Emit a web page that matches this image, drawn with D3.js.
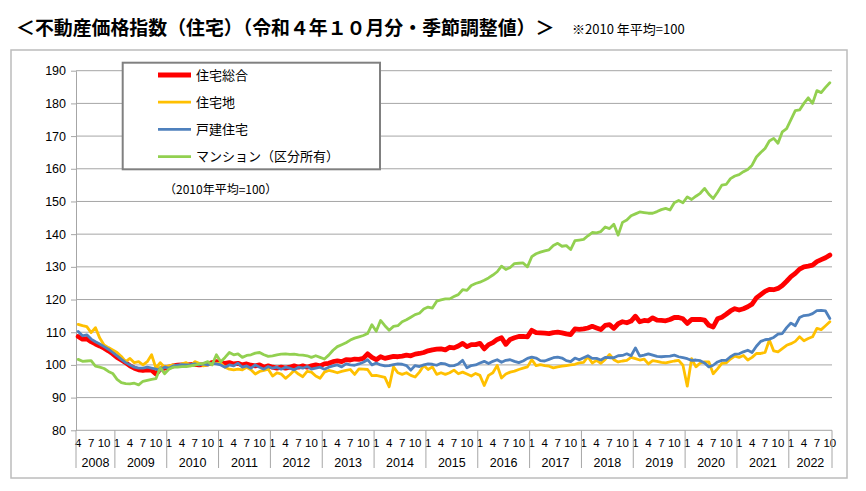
<!DOCTYPE html>
<html>
<head>
<meta charset="utf-8">
<script src="https://cdn.jsdelivr.net/npm/d3@7"></script>
<style>
  body { margin: 0; background: #fff; }
  svg { display: block; }
</style>
</head>
<body>
<div id="chart"></div>
<script>

//
// data
//
var title = "＜不動産価格指数（住宅）（令和４年１０月分・季節調整値）＞";
var note = "※2010 年平均=100";
var baseNote = "（2010年平均=100）";

var years = [2008, 2009, 2010, 2011, 2012, 2013, 2014, 2015, 2016, 2017, 2018, 2019, 2020, 2021, 2022];
var firstMonth = "2008-4", lastMonth = "2022-10";
var monthTicks = [1, 4, 7, 10];
var yTicks = [80, 90, 100, 110, 120, 130, 140, 150, 160, 170, 180, 190];

var seriesNames = ["住宅総合", "住宅地", "戸建住宅", "マンション（区分所有）"];

// 住宅総合
var total = [
  108.7, 107.9, 108.0, 107.1, 106.4, 105.8, 105.1, 104.3, 103.4,
  102.3, 101.5, 100.7, 99.7, 99.0, 98.5, 98.3, 98.5, 98.4, 97.2, 98.7, 99.0,
  99.3, 99.7, 99.9, 100.0, 100.0, 100.1, 100.2, 100.0, 100.1, 100.3, 100.7, 101.0,
  100.6, 100.5, 100.7, 100.3, 100.5, 100.0, 100.3, 99.9, 99.7, 100.0, 99.3, 99.7,
  99.3, 99.0, 99.3, 99.0, 99.3, 99.7, 99.3, 99.7, 99.3, 99.7, 100.0, 99.7,
  100.3, 100.5, 101.0, 101.2, 101.0, 101.6, 101.5, 101.8, 101.7, 102.0, 103.4, 102.3,
  101.6, 102.5, 102.0, 102.3, 102.6, 102.5, 102.7, 103.0, 102.8, 103.3, 103.5, 103.8,
  104.3, 104.6, 104.8, 104.9, 104.6, 105.4, 105.2, 105.8, 106.6, 105.6, 106.2, 106.2,
  106.6, 104.9, 106.2, 106.8, 107.8, 108.3, 106.3, 107.8, 108.3, 108.7, 108.7, 108.6,
  110.6, 109.9, 109.8, 109.7, 109.6, 109.9, 110.0, 109.8, 109.5, 109.3, 111.0, 110.9,
  111.0, 111.3, 111.8, 111.3, 110.8, 112.1, 112.3, 111.2, 112.6, 113.2, 112.9, 113.4,
  114.9, 113.2, 113.6, 113.5, 114.4, 113.7, 113.6, 113.5, 113.9, 114.5, 114.5, 114.1,
  112.7, 113.9, 113.9, 113.9, 113.7, 112.1, 111.6, 114.1, 114.6, 115.5, 116.5, 117.2,
  116.8, 117.2, 117.8, 118.6, 120.5, 121.5, 122.5, 123.1, 123.0, 123.4, 124.3, 125.6,
  127.0, 128.0, 129.3, 130.0, 130.2, 130.5, 131.6, 132.2, 132.8, 133.6
];

// 住宅地
var land = [
  112.4, 112.0, 111.7, 109.9, 111.4, 108.2, 106.1, 105.3, 104.6,
  103.8, 102.6, 101.0, 102.0, 100.7, 101.0, 100.0, 101.0, 103.1, 99.0, 100.7, 99.3,
  99.7, 100.0, 99.5, 100.3, 100.7, 99.7, 101.0, 100.5, 99.7, 100.0, 100.3, 100.5,
  100.5, 99.3, 98.7, 98.5, 98.7, 98.5, 99.3, 98.5, 97.2, 98.0, 98.3, 98.7,
  96.6, 97.6, 97.2, 95.9, 97.0, 98.3, 97.2, 96.4, 98.0, 97.8, 96.6, 95.9,
  97.8, 98.3, 98.0, 97.6, 98.0, 98.3, 98.6, 97.1, 98.8, 98.7, 98.6, 96.7,
  96.8, 96.5, 96.2, 93.3, 99.4, 97.6, 97.1, 97.6, 96.8, 96.3, 97.8, 99.8,
  98.6, 99.4, 97.1, 97.6, 97.1, 97.6, 98.4, 97.3, 97.8, 97.2, 96.6, 97.4,
  96.8, 93.7, 96.8, 97.6, 99.8, 96.0, 97.2, 97.8, 98.1, 98.6, 99.0, 99.4,
  101.6, 99.8, 100.1, 99.8, 99.6, 99.1, 99.4, 99.6, 99.8, 100.0, 100.2, 100.6,
  100.8, 102.5, 100.6, 101.4, 100.5, 101.7, 103.2, 101.6, 100.9, 101.2, 101.4, 102.3,
  101.9, 101.5, 101.8, 100.3, 101.3, 101.1, 100.8, 100.6, 100.9, 101.2, 101.4, 99.9,
  93.5, 101.9, 99.4, 100.6, 100.9, 100.9, 97.3, 98.8, 100.5, 100.6, 101.8, 102.7,
  102.3, 102.9, 101.5, 102.3, 103.5, 103.5, 103.8, 107.6, 104.3, 104.0, 105.0, 106.0,
  106.5, 107.2, 108.6, 107.4, 108.1, 108.6, 111.2, 110.8, 112.0, 113.2
];

// 戸建住宅
var detached = [
  110.2, 108.9, 109.2, 107.9, 107.1, 106.4, 105.6, 104.8, 103.8,
  102.8, 101.7, 100.7, 100.0, 99.3, 99.0, 99.0, 99.3, 99.0, 98.7, 98.3, 99.3,
  99.0, 99.7, 99.9, 100.1, 100.0, 100.1, 100.3, 100.0, 100.3, 100.0, 100.5, 100.3,
  100.0, 99.3, 100.0, 99.7, 100.5, 99.3, 99.7, 99.0, 100.0, 99.3, 98.7, 99.5,
  99.0, 99.3, 98.7, 99.3, 99.0, 98.5, 99.3, 99.0, 99.5, 98.7, 99.0, 99.3,
  98.7, 99.3, 99.7, 100.0, 99.4, 100.3, 100.0, 99.9, 100.3, 100.8, 101.6, 100.0,
  100.6, 100.0, 99.7, 99.8, 100.1, 100.3, 100.2, 99.8, 98.4, 99.8, 99.5, 100.0,
  100.3, 100.2, 99.9, 100.5, 100.3, 99.7, 99.8, 100.3, 101.4, 99.1, 99.8, 100.0,
  100.6, 101.1, 100.4, 101.1, 101.6, 100.8, 101.4, 101.6, 101.1, 100.7, 101.2, 102.0,
  102.4, 102.1, 101.3, 101.2, 101.7, 102.2, 102.4, 102.1, 101.3, 101.0, 102.1, 101.6,
  102.2, 102.8, 102.0, 102.0, 101.5, 102.3, 102.2, 102.2, 102.8, 102.9, 103.4, 102.8,
  105.2, 102.7, 103.0, 103.4, 103.0, 102.6, 102.5, 102.6, 102.7, 103.0, 102.5, 102.2,
  101.9, 101.4, 101.5, 101.3, 100.6, 99.4, 99.9, 100.9, 101.4, 101.4, 102.5, 103.3,
  103.4, 104.0, 104.5, 103.8, 105.7, 107.2, 107.7, 107.9, 108.4, 109.4, 109.6, 111.4,
  112.8, 112.0, 114.5, 115.1, 115.2, 115.7, 116.6, 116.7, 116.5, 114.2
];

// マンション（区分所有）
var condo = [
  101.7, 101.1, 101.2, 101.3, 99.6, 99.3, 98.9, 98.0, 97.4,
  95.6, 94.6, 94.3, 94.2, 94.4, 93.9, 95.0, 95.3, 95.6, 95.8, 99.2, 97.3,
  98.7, 99.3, 99.3, 99.5, 99.5, 99.7, 99.9, 100.3, 100.5, 101.0, 100.0, 103.1,
  101.0, 102.3, 103.8, 103.1, 103.4, 102.3, 102.9, 103.1, 103.6, 103.8, 103.1, 102.6,
  102.8, 103.1, 103.3, 103.4, 103.2, 103.3, 103.1, 103.0, 102.8, 102.3, 102.8, 102.3,
  101.8, 103.0, 104.5, 105.6, 106.2, 106.8, 107.6, 108.2, 108.6, 109.0, 109.6, 112.3,
  110.3, 113.6, 112.0, 110.6, 111.8, 112.0, 113.2, 113.8, 114.6, 115.4, 115.8, 117.1,
  117.7, 117.4, 119.5, 119.9, 120.2, 120.2, 120.9, 121.5, 123.0, 122.8, 124.3, 124.9,
  125.3, 125.9, 126.6, 127.5, 128.5, 130.2, 129.2, 129.8, 131.0, 131.1, 131.2, 130.0,
  133.1, 134.0, 134.5, 134.9, 135.2, 136.5, 137.2, 136.3, 136.5, 135.3, 138.0, 138.2,
  138.4, 139.5, 140.5, 140.4, 140.8, 142.2, 141.7, 143.0, 139.7, 143.6, 144.3, 145.6,
  146.2, 146.8, 146.6, 146.4, 146.4, 146.9, 147.5, 147.9, 147.4, 149.6, 150.3, 149.6,
  151.4, 150.6, 151.6, 152.5, 154.0, 152.2, 150.9, 152.8, 155.0, 155.2, 157.0, 157.8,
  158.2, 159.1, 159.8, 161.1, 163.6, 165.0, 166.2, 168.5, 169.3, 167.8, 171.3, 172.3,
  175.0, 177.8, 178.0, 180.0, 181.7, 180.0, 183.9, 183.3, 184.9, 186.3
];


//
// setup / initialization
//
var width = 866,
    height = 491;

var jpFont = "'Noto Sans CJK JP', 'Noto Sans', sans-serif";
var numFont = "'Liberation Sans', Arial, sans-serif";

var series = [
  { name: seriesNames[0], values: total,    color: "#ff0000", width: 4.8 },
  { name: seriesNames[1], values: land,     color: "#ffc000", width: 2.8 },
  { name: seriesNames[2], values: detached, color: "#4f81bd", width: 2.8 },
  { name: seriesNames[3], values: condo,    color: "#92d050", width: 2.8 }
];

// month categories from 2008-4 to 2022-10
var months = [];
years.forEach(function(yr) {
  d3.range(1, 13).forEach(function(m) { months.push(yr + "-" + m); });
});
months = months.slice(months.indexOf(firstMonth), months.indexOf(lastMonth) + 1);

var svg = d3.select("#chart")
    .append("svg")
    .attr("width", width)
    .attr("height", height)
    .style("font-family", jpFont);

var x = d3.scaleBand()
    .domain(months)
    .range([76, 832]);

var y = d3.scaleLinear()
    .domain([80, 190])
    .range([430.3, 70.7]);

function cx(m) { return x(m) + x.bandwidth() / 2; }


//
// title and outer frame
//
svg.append("text")
    .attr("x", 16)
    .attr("y", 35)
    .attr("font-size", 18.9)
    .attr("font-weight", "bold")
    .attr("fill", "#000")
    .text(title);

svg.append("text")
    .attr("x", 572)
    .attr("y", 34)
    .attr("font-size", 13)
    .attr("fill", "#000")
    .text(note);

svg.append("rect")
    .attr("x", 11)
    .attr("y", 50)
    .attr("width", 836)
    .attr("height", 428)
    .attr("fill", "none")
    .attr("stroke", "#bcbcbc")
    .attr("stroke-width", 1.5);


//
// grid + y axis
//
svg.append("g")
    .selectAll("line")
    .data(yTicks.slice(1))
    .enter()
    .append("line")
    .attr("x1", 76)
    .attr("x2", 832)
    .attr("y1", function(d) { return y(d); })
    .attr("y2", function(d) { return y(d); })
    .attr("stroke", "#a6a6a6")
    .attr("stroke-width", 1);

var yAxis = svg.append("g")
    .attr("transform", "translate(76,0)")
    .call(d3.axisLeft(y).tickValues(yTicks).tickSize(5).tickSizeOuter(0).tickPadding(5));
yAxis.selectAll("path, line").attr("stroke", "#a6a6a6");
yAxis.selectAll("text")
    .attr("font-family", numFont)
    .attr("font-size", 12.5)
    .attr("fill", "#000");


//
// category x axis (months + years)
//
svg.append("line")
    .attr("x1", 76)
    .attr("x2", 832)
    .attr("y1", y(80))
    .attr("y2", y(80))
    .attr("stroke", "#a6a6a6");

var xg = svg.append("g");

xg.selectAll("text.month")
    .data(months.filter(function(m) { return monthTicks.indexOf(+m.split("-")[1]) >= 0; }))
    .enter()
    .append("text")
    .attr("class", "month")
    .attr("x", function(d) { return cx(d); })
    .attr("y", 447)
    .attr("text-anchor", "middle")
    .attr("font-family", numFont)
    .attr("font-size", 11.5)
    .attr("fill", "#000")
    .text(function(d) { return d.split("-")[1]; });

var yearSpans = years.map(function(yr) {
  var ms = months.filter(function(m) { return +m.split("-")[0] === yr; });
  var x0 = x(ms[0]), x1 = x(ms[ms.length - 1]) + x.bandwidth();
  return { year: yr, x0: x0, x1: x1 };
});

xg.selectAll("line.sep")
    .data(yearSpans.map(function(d) { return d.x0; }).concat([x.range()[1]]))
    .enter()
    .append("line")
    .attr("class", "sep")
    .attr("x1", function(d) { return d; })
    .attr("x2", function(d) { return d; })
    .attr("y1", y(80))
    .attr("y2", 468)
    .attr("stroke", "#a6a6a6");

xg.selectAll("text.year")
    .data(yearSpans)
    .enter()
    .append("text")
    .attr("class", "year")
    .attr("x", function(d) { return (d.x0 + d.x1) / 2; })
    .attr("y", 467)
    .attr("text-anchor", "middle")
    .attr("font-family", numFont)
    .attr("font-size", 12.5)
    .attr("fill", "#000")
    .text(function(d) { return d.year; });


//
// series lines
//
var line = d3.line()
    .x(function(d, i) { return cx(months[i]); })
    .y(function(d) { return y(d); });

svg.append("g")
    .selectAll("path")
    .data(series)
    .enter()
    .append("path")
    .attr("fill", "none")
    .attr("stroke", function(d) { return d.color; })
    .attr("stroke-width", function(d) { return d.width; })
    .attr("stroke-linejoin", "round")
    .attr("stroke-linecap", "round")
    .attr("d", function(d) { return line(d.values); });


//
// legend
//
var lg = svg.append("g");
lg.append("rect")
    .attr("x", 122.7)
    .attr("y", 62.7)
    .attr("width", 257.3)
    .attr("height", 106.6)
    .attr("fill", "#fff")
    .attr("stroke", "#808080")
    .attr("stroke-width", 2);

var item = lg.selectAll("g.item")
    .data(series)
    .enter()
    .append("g")
    .attr("class", "item")
    .attr("transform", function(d, i) { return "translate(0," + (75 + i * 27.2) + ")"; });

item.append("line")
    .attr("x1", 158)
    .attr("x2", 191)
    .attr("stroke", function(d) { return d.color; })
    .attr("stroke-width", function(d) { return d.width; });

item.append("text")
    .attr("x", 196)
    .attr("y", 4.6)
    .attr("font-size", 13)
    .attr("fill", "#000")
    .text(function(d) { return d.name; });

svg.append("text")
    .attr("x", 164)
    .attr("y", 193.5)
    .attr("font-size", 12)
    .attr("fill", "#000")
    .text(baseNote);

</script>
</body>
</html>
